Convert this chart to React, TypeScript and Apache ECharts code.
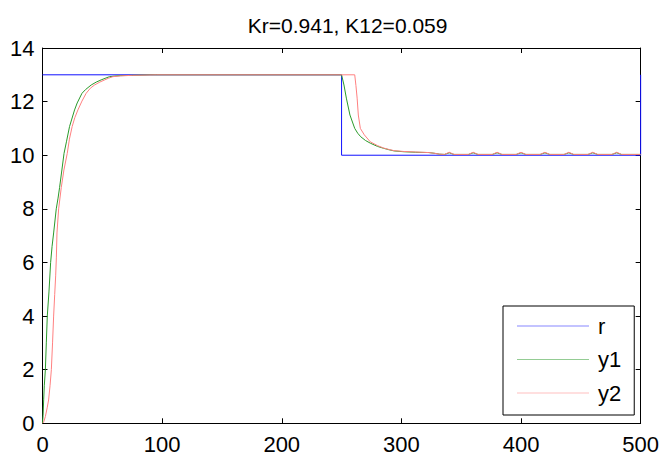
import React, { useEffect, useRef } from 'react';
import * as echarts from 'echarts';

const titleText = 'Kr=0.941, K12=0.059';
const seriesNames = ['r', 'y1', 'y2'];
const seriesColors = ['#1010ff', '#2a9a2a', '#ff8080'];

const rT = [0, 250, 250, 500, 500];
const rV = [13, 13, 10, 10, 13];

const y1T = [0, 0.5, 1, 1.5, 2.4, 3.2, 4, 5.4, 6.8, 8, 9.3, 11.5, 13, 14.3, 16.2, 18, 20, 22.6, 24.5, 26.8, 29, 33, 36, 40.7, 45, 49, 53, 56, 60, 65, 75, 90,
  250, 252, 254, 257, 261, 263.5, 266, 270, 274, 280, 285, 290, 294, 302, 312, 323, 328, 332,
  336, 340, 344, 356, 360, 364, 376, 380, 384, 396, 400, 404, 416, 420, 424, 436, 440, 444, 456, 460, 464, 476, 480, 484, 500];
const y1V = [0, 0.3, 0.9, 1.4, 2, 3, 4, 4.9, 6, 6.6, 7.1, 8, 8.4, 8.8, 9.45, 10.07, 10.5, 11.07, 11.35, 11.69, 11.95, 12.31, 12.45, 12.62, 12.73, 12.81, 12.88, 12.93, 12.95, 12.97, 12.98, 13,
  13, 12.62, 12.13, 11.5, 11.0, 10.82, 10.69, 10.55, 10.45, 10.33, 10.26, 10.2, 10.16, 10.13, 10.11, 10.1, 10.07, 10.04,
  10.03, 10.09, 10.03, 10.03, 10.09, 10.03, 10.03, 10.09, 10.03, 10.03, 10.09, 10.03, 10.03, 10.09, 10.03, 10.03, 10.09, 10.03, 10.03, 10.09, 10.03, 10.03, 10.09, 10.03, 10.03];

const y2T = [0, 1, 2.4, 4, 5.1, 6.3, 7.4, 8.4, 9.3, 10.2, 11, 11.6, 12.1, 13.5, 15.7, 17.9, 20.7, 22.5, 24.8, 27, 29.6, 33, 36.5, 40, 43.5, 48, 52, 55, 58.8, 65, 75, 95,
  261, 262, 263, 264, 265.7, 269, 274, 280, 285, 290, 294, 302, 312, 323, 328, 332,
  336, 340, 344, 356, 360, 364, 376, 380, 384, 396, 400, 404, 416, 420, 424, 436, 440, 444, 456, 460, 464, 476, 480, 484, 500];
const y2V = [0, 0.05, 0.25, 0.6, 0.87, 1.4, 2, 3, 4, 4.8, 5.5, 6.2, 7.1, 8, 8.8, 9.45, 10.07, 10.6, 11.07, 11.4, 11.69, 12.02, 12.31, 12.5, 12.62, 12.73, 12.81, 12.87, 12.93, 12.96, 12.98, 13,
  13, 12.6, 12.13, 11.5, 11.0, 10.76, 10.5, 10.36, 10.27, 10.21, 10.17, 10.14, 10.12, 10.1, 10.07, 10.04,
  10.03, 10.11, 10.03, 10.03, 10.11, 10.03, 10.03, 10.11, 10.03, 10.03, 10.11, 10.03, 10.03, 10.11, 10.03, 10.03, 10.11, 10.03, 10.03, 10.11, 10.03, 10.03, 10.11, 10.03, 10.03];

const X_MIN = 0, X_MAX = 500, X_STEP = 100;
const Y_MIN = 0, Y_MAX = 14, Y_STEP = 2;

const zip = (t: number[], v: number[]) => t.map((x, i) => [x, v[i]]);

const FONT = '"Liberation Sans", Arial, Helvetica, sans-serif';

export default function App() {
  const ref = useRef<HTMLDivElement>(null);
  useEffect(() => {
    document.body.style.margin = '0';
    const chart = echarts.init(ref.current!, null, { renderer: 'svg' });
    const axisLine = { show: true, onZero: false, lineStyle: { color: '#000', width: 1 } };
    const tick = { show: true, inside: true, length: 5, lineStyle: { color: '#000', width: 1 } };
    const labelStyle = { color: '#000', fontFamily: FONT, fontSize: 22 };
    const datas = [zip(rT, rV), zip(y1T, y1V), zip(y2T, y2V)];
    chart.setOption({
      animation: false,
      backgroundColor: '#fff',
      title: {
        text: titleText,
        left: 342.6,
        textAlign: 'center',
        top: 10,
        textStyle: { color: '#000', fontFamily: FONT, fontSize: 21, fontWeight: 'normal' },
      },
      grid: { left: 42.5, right: 19.3, top: 48, bottom: 33.7, containLabel: false },
      xAxis: [
        {
          type: 'value', min: X_MIN, max: X_MAX, interval: X_STEP, position: 'bottom',
          axisLine, axisTick: tick, splitLine: { show: false },
          axisLabel: { ...labelStyle, margin: 10 },
        },
        {
          type: 'value', min: X_MIN, max: X_MAX, interval: X_STEP, position: 'top',
          axisLine, axisTick: tick, splitLine: { show: false }, axisLabel: { show: false },
        },
      ],
      yAxis: [
        {
          type: 'value', min: Y_MIN, max: Y_MAX, interval: Y_STEP, position: 'left',
          axisLine, axisTick: tick, splitLine: { show: false },
          axisLabel: { ...labelStyle, margin: 8 },
        },
        {
          type: 'value', min: Y_MIN, max: Y_MAX, interval: Y_STEP, position: 'right',
          axisLine, axisTick: tick, splitLine: { show: false }, axisLabel: { show: false },
        },
      ],
      legend: {
        orient: 'vertical',
        left: 503,
        top: 306,
        padding: [9, 13, 11, 14],
        itemWidth: 72,
        itemHeight: 14,
        itemGap: 11.5,
        borderColor: '#000',
        borderWidth: 1,
        backgroundColor: '#fff',
        borderRadius: 0,
        data: seriesNames.map((n) => ({ name: n, icon: 'path://M0,10L100,10L100,11L0,11Z' })),
        textStyle: { color: '#000', fontFamily: FONT, fontSize: 22, lineHeight: 22, padding: [0, 0, 0, 4] },
      },
      series: seriesNames.map((n, i) => ({
        name: n,
        type: 'line',
        data: datas[i],
        xAxisIndex: 0,
        yAxisIndex: 0,
        symbol: 'none',
        showSymbol: false,
        color: seriesColors[i],
        lineStyle: { color: seriesColors[i], width: 1 },
        itemStyle: { color: seriesColors[i] },
        z: 2 + i,
      })),
    });
    return () => chart.dispose();
  }, []);
  return <div ref={ref} style={{ width: 662, height: 457 }} />;
}
